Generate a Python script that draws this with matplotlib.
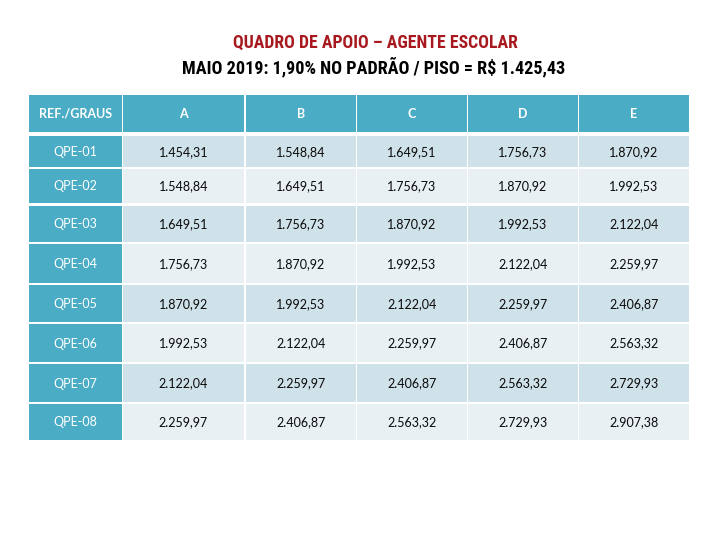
import matplotlib
matplotlib.use("Agg")
import matplotlib.pyplot as plt
from matplotlib.patches import Rectangle

# ---- data ----
title_line1 = "QUADRO DE APOIO – AGENTE ESCOLAR"
title_line2 = "MAIO 2019: 1,90% NO PADRÃO / PISO = R$ 1.425,43"
corner_label = "REF./GRAUS"
grades = ["A", "B", "C", "D", "E"]
refs = ["QPE-01", "QPE-02", "QPE-03", "QPE-04", "QPE-05", "QPE-06", "QPE-07", "QPE-08"]
col_A = [1454.31, 1548.84, 1649.51, 1756.73, 1870.92, 1992.53, 2122.04, 2259.97]
col_B = [1548.84, 1649.51, 1756.73, 1870.92, 1992.53, 2122.04, 2259.97, 2406.87]
col_C = [1649.51, 1756.73, 1870.92, 1992.53, 2122.04, 2259.97, 2406.87, 2563.32]
col_D = [1756.73, 1870.92, 1992.53, 2122.04, 2259.97, 2406.87, 2563.32, 2729.93]
col_E = [1870.92, 1992.53, 2122.04, 2259.97, 2406.87, 2563.32, 2729.93, 2907.38]
columns = [col_A, col_B, col_C, col_D, col_E]

# ---- layout (pixels) ----
W, H = 720, 540
col_edges = [(29, 122), (123, 244), (246, 356), (357, 467), (468, 578), (579, 689)]
row_edges = [(95, 132), (136, 167), (169, 203), (206, 242), (244, 283),
             (285, 322), (324, 362), (364, 402), (404, 440)]
TEAL = "#4BACC6"
DARK = "#D0E2E9"
LIGHT = "#E8F0F3"
TITLE_RED = "#A8191F"

def fmt_br(v):
    s = f"{v:,.2f}"
    return s.replace(",", "X").replace(".", ",").replace("X", ".")

title_font = ["Roboto Condensed", "DejaVu Sans"]
cell_font = ["Lato", "DejaVu Sans"]

fig = plt.figure(figsize=(W / 100, H / 100), dpi=100)
ax = fig.add_axes([0, 0, 1, 1])
ax.set_xlim(0, W)
ax.set_ylim(H, 0)
ax.axis("off")

def cell(ci, ri, color, text, tcolor, weight="normal"):
    x0, x1 = col_edges[ci]
    y0, y1 = row_edges[ri]
    ax.add_patch(Rectangle((x0, y0), x1 - x0, y1 - y0, facecolor=color, edgecolor="none"))
    ax.text((x0 + x1) / 2, (y0 + y1) / 2 + 0.5, text, ha="center", va="center",
            color=tcolor, fontsize=9, family=cell_font, fontweight=weight)

# header row
cell(0, 0, TEAL, corner_label, "white", "bold")
for j, g in enumerate(grades):
    cell(j + 1, 0, TEAL, g, "white", "bold")

# body
for i, r in enumerate(refs):
    cell(0, i + 1, TEAL, r, "white")
    bg = DARK if i % 2 == 0 else LIGHT
    for j, col in enumerate(columns):
        cell(j + 1, i + 1, bg, fmt_br(col[i]), "#0A0A0A")

# titles
ax.text(375, 43, title_line1, ha="center", va="center", color=TITLE_RED,
        fontsize=12.8, fontweight="bold", fontstretch="condensed", family=title_font)
ax.text(374, 67, title_line2, ha="center", va="center", color="black",
        fontsize=13.1, fontweight="bold", fontstretch="condensed", family=title_font)

fig.savefig("out.png", dpi=100, facecolor="white")
